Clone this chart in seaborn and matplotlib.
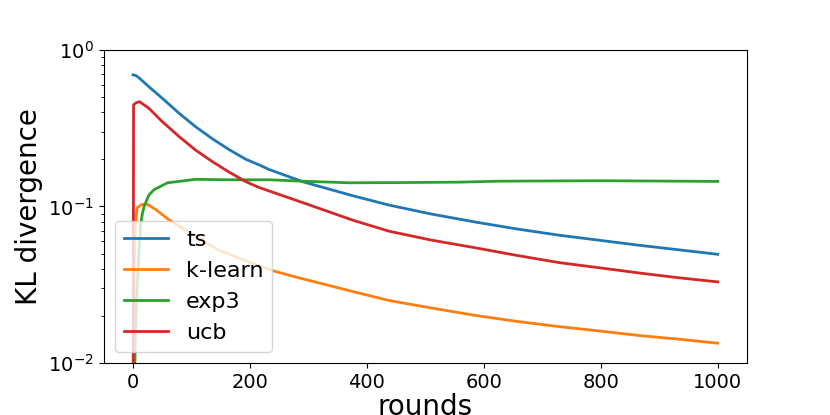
import pandas as pd
import seaborn as sns
import matplotlib
matplotlib.use("Agg")
import matplotlib.pyplot as plt

# values (rounds, KL divergence)
ts_rounds = [0, 5, 11, 27, 50, 79, 107, 136, 164, 193, 216, 233, 290, 376, 438, 510, 584, 655, 729, 800, 866, 935, 1000]
ts_kl = [0.692, 0.685, 0.659, 0.582, 0.491, 0.393, 0.323, 0.270, 0.231, 0.200, 0.184, 0.172, 0.144, 0.117,
         0.102, 0.0895, 0.0797, 0.072, 0.0655, 0.0607, 0.0565, 0.0528, 0.0495]

kl_rounds = [0, 1, 2, 4, 7, 15, 24, 40, 60, 90, 147, 200, 238, 284, 370, 438, 510, 584, 655, 729, 800, 866, 935, 1000]
kl_kl = [0.001, 0.01, 0.04, 0.075, 0.098, 0.103, 0.1035, 0.095, 0.083, 0.0705, 0.0525, 0.044, 0.039, 0.035,
         0.029, 0.0251, 0.0225, 0.0202, 0.0185, 0.0171, 0.016, 0.015, 0.0142, 0.0134]

exp3_rounds = [0, 2, 4, 7, 10, 13, 16, 19, 27, 36, 59, 107, 164, 233, 290, 370, 450, 560, 627, 800, 1000]
exp3_kl = [0.001, 0.005, 0.015, 0.03, 0.05, 0.075, 0.09, 0.1, 0.118, 0.128, 0.1416, 0.149, 0.148, 0.148,
           0.145, 0.1416, 0.142, 0.143, 0.145, 0.146, 0.1445]

ucb_rounds = [0, 1, 5, 11, 27, 50, 79, 107, 136, 164, 193, 216, 233, 296, 376, 438, 510, 584, 655, 729, 800, 866, 935, 1000]
ucb_kl = [0.001, 0.445, 0.458, 0.467, 0.424, 0.348, 0.279, 0.229, 0.193, 0.166, 0.144, 0.132, 0.1255, 0.104,
          0.0817, 0.0695, 0.061, 0.0546, 0.0488, 0.0438, 0.0405, 0.0376, 0.035, 0.033]

names = ["ts", "k-learn", "exp3", "ucb"]
colors = ["#1f77b4", "#ff7f0e", "#2ca02c", "#d62728"]

frames = []
for name, r, v in zip(names, [ts_rounds, kl_rounds, exp3_rounds, ucb_rounds],
                      [ts_kl, kl_kl, exp3_kl, ucb_kl]):
    frames.append(pd.DataFrame({"rounds": r, "kl": v, "algo": name}))
df = pd.concat(frames, ignore_index=True)

fig = plt.figure(figsize=(8.3, 4.15), dpi=100)
ax = fig.add_axes([0.125, 0.125, 0.775, 0.755])
sns.lineplot(data=df, x="rounds", y="kl", hue="algo", hue_order=names,
             palette=colors, linewidth=2, ax=ax)
ax.set_yscale("log")
ax.set_ylim(1e-2, 1e0)
ax.set_xlim(-50, 1050)
ax.set_xticks([0, 200, 400, 600, 800, 1000])
ax.tick_params(labelsize=14)
ax.set_xlabel("rounds", fontsize=20, labelpad=1)
ax.set_ylabel("KL divergence", fontsize=20)
ax.legend(loc="lower left", fontsize=16)

fig.savefig("out.png", dpi=100)
